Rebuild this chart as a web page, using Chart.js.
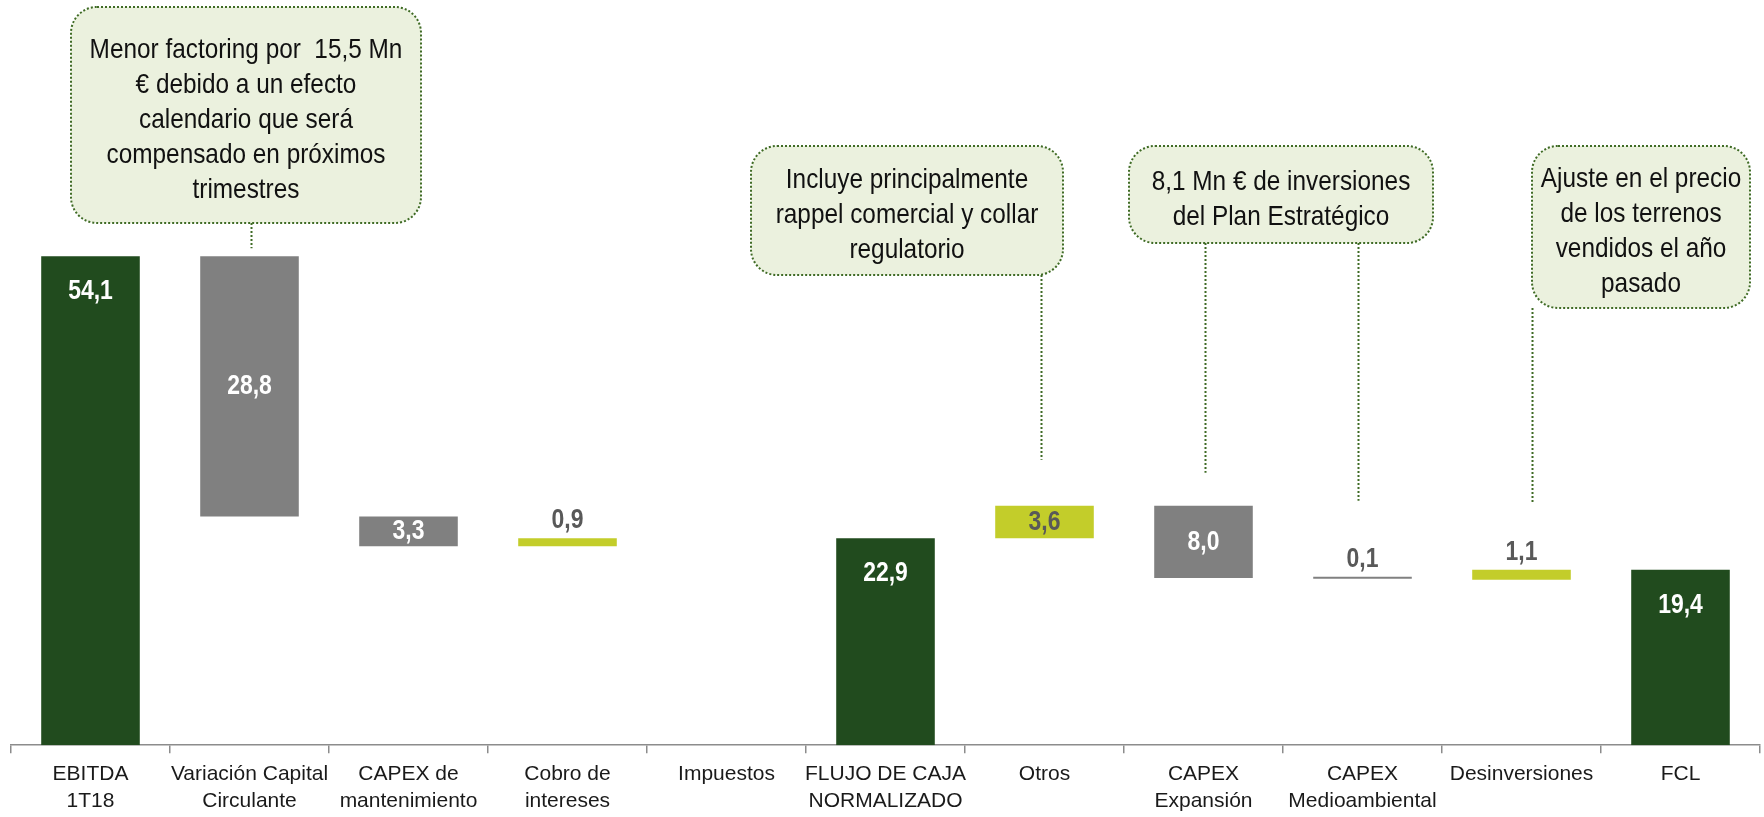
<!DOCTYPE html>
<html lang="es">
<head>
<meta charset="utf-8">
<title>Flujo de caja 1T18</title>
<script src="https://cdn.jsdelivr.net/npm/chart.js@4.4.1/dist/chart.umd.min.js"></script>
<style>
  html, body { margin: 0; padding: 0; background: #fff; overflow: hidden; }
  #wrap { position: relative; width: 1764px; height: 817px; }
</style>
</head>
<body>
<div id="wrap"><canvas id="fcl"></canvas></div>
<script>
  // --- data (Mn €) ---
  const categories = [['EBITDA', '1T18'], ['Variación Capital', 'Circulante'], ['CAPEX de', 'mantenimiento'],
    ['Cobro de', 'intereses'], 'Impuestos', ['FLUJO DE CAJA', 'NORMALIZADO'], 'Otros',
    ['CAPEX', 'Expansión'], ['CAPEX', 'Medioambiental'], 'Desinversiones', 'FCL'];
  const barFrom = [0, 54.1, 25.3, 22.0, null, 0, 22.9, 26.5, 18.5, 18.3, 0];
  const barTo = [54.1, 25.3, 22.0, 22.9, null, 22.9, 26.5, 18.5, 18.4, 19.4, 19.4];
  const shownValues = ['54,1', '28,8', '3,3', '0,9', '', '22,9', '3,6', '8,0', '0,1', '1,1', '19,4'];
  const barKind = ['total', 'down', 'down', 'up', 'none', 'total', 'up', 'down', 'down', 'up', 'total'];

  const FONT = "'Liberation Sans Narrow', 'Arial Narrow', 'Liberation Sans', sans-serif";
  const kindColor = { total: '#214b1e', down: '#808080', up: '#c3cd2a', none: '#808080' };

  // call-out boxes (text + where the dotted leader goes)
  const notes = [
    { text: ['Menor factoring por  15,5 Mn', '€ debido a un efecto', 'calendario que será', 'compensado en próximos', 'trimestres'],
      box: [71, 7, 350, 216], links: [{ cat: 1, dx: 1, gap: 8 }] },
    { text: ['Incluye principalmente', 'rappel comercial y collar', 'regulatorio'],
      box: [751, 146, 312, 129], links: [{ cat: 6, dx: -4, gap: 46 }] },
    { text: ['8,1 Mn € de inversiones', 'del Plan Estratégico'],
      box: [1129, 146, 304, 97], links: [{ cat: 7, dx: 1, gap: 33 }, { cat: 8, dx: -5, gap: 76 }] },
    { text: ['Ajuste en el precio', 'de los terrenos', 'vendidos el año', 'pasado'],
      box: [1532, 146, 218, 162], links: [{ cat: 9, dx: 10, gap: 66 }] }
  ];

  function roundRect(ctx, x, y, w, h, r) {
    ctx.beginPath();
    ctx.moveTo(x + r, y);
    ctx.arcTo(x + w, y, x + w, y + h, r);
    ctx.arcTo(x + w, y + h, x, y + h, r);
    ctx.arcTo(x, y + h, x, y, r);
    ctx.arcTo(x, y, x + w, y, r);
    ctx.closePath();
  }

  // no narrow font installed, so squeeze the text a bit
  function narrowText(ctx, text, x, y, sx) {
    ctx.save();
    ctx.translate(x, y);
    ctx.scale(sx, 1);
    ctx.fillText(text, 0, 0);
    ctx.restore();
  }

  const overlay = {
    id: 'overlay',
    afterDatasetsDraw(chart) {
      const ctx = chart.ctx;
      const meta = chart.getDatasetMeta(0);
      ctx.save();

      // value labels
      ctx.font = 'bold 28px ' + FONT;
      ctx.textAlign = 'center';
      ctx.textBaseline = 'middle';
      meta.data.forEach((bar, i) => {
        if (!shownValues[i]) return;
        const top = Math.min(bar.y, bar.base), bot = Math.max(bar.y, bar.base);
        let ty, col;
        if (barKind[i] === 'total') { ty = top + 35; col = '#fff'; }
        else if (bot - top < 20) { ty = top - 18; col = '#595959'; }
        else { ty = (top + bot) / 2; col = barKind[i] === 'up' ? '#595959' : '#fff'; }
        ctx.fillStyle = col;
        narrowText(ctx, shownValues[i], bar.x, ty, 0.82);
      });

      // call-outs
      ctx.strokeStyle = '#3f6b25';
      ctx.lineWidth = 2;
      ctx.setLineDash([2, 2]);
      notes.forEach(n => {
        const [bx, by, bw, bh] = n.box;
        n.links.forEach(l => {
          const bar = meta.data[l.cat];
          const top = Math.min(bar.y, bar.base);
          const lx = Math.round(bar.x + l.dx) + 0.5;
          ctx.beginPath();
          ctx.moveTo(lx, by + bh);
          ctx.lineTo(lx, top - l.gap);
          ctx.stroke();
        });
        roundRect(ctx, bx, by, bw, bh, 26);
        ctx.fillStyle = '#ebf1de';
        ctx.fill();
        ctx.stroke();
        ctx.fillStyle = '#111';
        ctx.font = '28px ' + FONT;
        const lh = 35;
        const y0 = by + bh / 2 - (n.text.length - 1) * lh / 2 + 5;
        n.text.forEach((t, k) => narrowText(ctx, t, bx + bw / 2, y0 + k * lh, 0.87));
      });
      ctx.restore();
    }
  };

  new Chart(document.getElementById('fcl'), {
    type: 'bar',
    data: {
      labels: categories,
      datasets: [{
        data: barFrom.map((v, i) => v === null ? null : [v, barTo[i]]),
        backgroundColor: barKind.map(k => kindColor[k]),
        borderWidth: 0,
        barPercentage: 0.62,
        categoryPercentage: 1,
        minBarLength: 2
      }]
    },
    options: {
      responsive: true,
      maintainAspectRatio: false,
      animation: false,
      layout: { padding: { left: 11, right: 4, top: 4, bottom: 0 } },
      plugins: { legend: { display: false }, tooltip: { enabled: false } },
      scales: {
        x: {
          // second label line is cut by the bottom edge in the original
          afterFit(scale) { scale.height -= 5.5; },
          grid: { offset: true, drawOnChartArea: false, tickLength: 8, color: '#8c8c8c', lineWidth: 1.5 },
          border: { color: '#8c8c8c', width: 1.5 },
          ticks: { color: '#1a1a1a', font: { family: FONT, size: 21, lineHeight: 1.27 }, padding: 8, maxRotation: 0, autoSkip: false }
        },
        y: { display: false, min: 0, max: 82 }
      }
    },
    plugins: [overlay]
  });
</script>
</body>
</html>
